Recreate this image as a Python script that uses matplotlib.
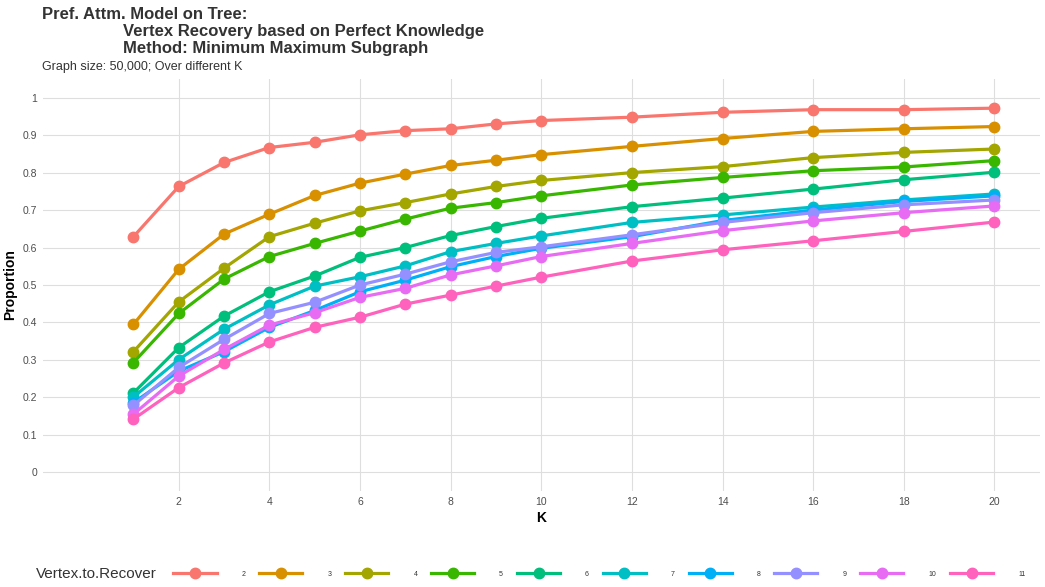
import matplotlib
matplotlib.use("Agg")
import matplotlib.pyplot as plt
from matplotlib.lines import Line2D

# K values on the x axis
k_values = [1, 2, 3, 4, 5, 6, 7, 8, 9, 10, 12, 14, 16, 18, 20]

# proportion recovered, one list per number of vertices to recover
v2 = [0.629, 0.763, 0.827, 0.867, 0.881, 0.901, 0.912, 0.917, 0.930, 0.939, 0.948, 0.961, 0.968, 0.968, 0.972]
v3 = [0.395, 0.542, 0.636, 0.689, 0.739, 0.772, 0.796, 0.819, 0.833, 0.848, 0.870, 0.891, 0.910, 0.917, 0.923]
v4 = [0.322, 0.455, 0.545, 0.629, 0.665, 0.698, 0.720, 0.743, 0.763, 0.779, 0.800, 0.816, 0.840, 0.854, 0.863]
v5 = [0.293, 0.424, 0.516, 0.576, 0.611, 0.644, 0.676, 0.705, 0.720, 0.738, 0.767, 0.787, 0.805, 0.815, 0.832]
v6 = [0.212, 0.333, 0.417, 0.482, 0.524, 0.574, 0.600, 0.632, 0.656, 0.678, 0.709, 0.732, 0.756, 0.781, 0.801]
v7 = [0.201, 0.301, 0.382, 0.447, 0.497, 0.522, 0.551, 0.589, 0.611, 0.631, 0.667, 0.687, 0.708, 0.727, 0.743]
v8 = [0.186, 0.270, 0.322, 0.387, 0.432, 0.482, 0.513, 0.549, 0.576, 0.598, 0.629, 0.672, 0.700, 0.723, 0.738]
v9 = [0.179, 0.280, 0.355, 0.424, 0.454, 0.500, 0.529, 0.562, 0.587, 0.602, 0.634, 0.667, 0.693, 0.714, 0.727]
v10 = [0.155, 0.257, 0.328, 0.393, 0.426, 0.467, 0.491, 0.527, 0.551, 0.576, 0.611, 0.645, 0.671, 0.693, 0.711]
v11 = [0.142, 0.226, 0.292, 0.348, 0.387, 0.414, 0.449, 0.473, 0.497, 0.521, 0.564, 0.594, 0.618, 0.643, 0.668]

series = [v2, v3, v4, v5, v6, v7, v8, v9, v10, v11]
labels = ["2", "3", "4", "5", "6", "7", "8", "9", "10", "11"]
colors = ["#F8766D", "#D89000", "#A3A500", "#39B600", "#00BF7D",
          "#00BFC4", "#00B0F6", "#9590FF", "#E76BF3", "#FF62BC"]

x_ticks = [2, 4, 6, 8, 10, 12, 14, 16, 18, 20]
y_ticks = [0, 0.1, 0.2, 0.3, 0.4, 0.5, 0.6, 0.7, 0.8, 0.9, 1]
y_ticklabels = ["0", "0.1", "0.2", "0.3", "0.4", "0.5", "0.6", "0.7", "0.8", "0.9", "1"]

plt.rcParams["font.family"] = ["Liberation Sans", "DejaVu Sans"]

fig = plt.figure(figsize=(10.45, 5.87), dpi=100)
ax = fig.add_axes([0.041, 0.1635, 0.954, 0.702])

for vals, lab, col in zip(series, labels, colors):
    ax.plot(k_values, vals, color=col, lw=2.3, marker="o", ms=7.5, label=lab, zorder=3)

ax.set_xlim(-1, 21)
ax.set_ylim(-0.05, 1.05)
ax.set_xticks(x_ticks)
ax.set_yticks(y_ticks)
ax.set_yticklabels(y_ticklabels)
ax.grid(True, color="#dedede", lw=0.8, zorder=0)
ax.tick_params(length=0, labelsize=7.5, colors="#4d4d4d", pad=4)
for s in ax.spines.values():
    s.set_visible(False)

ax.set_xlabel("K", fontsize=10, fontweight="bold", labelpad=3)
ax.set_ylabel("Proportion", fontsize=10, fontweight="bold", labelpad=4)

fig.text(0.040, 0.975, "Pref. Attm. Model on Tree:", fontsize=12, fontweight="bold",
         color="#333333", va="center", ha="left")
fig.text(0.118, 0.946, "Vertex Recovery based on Perfect Knowledge", fontsize=12,
         fontweight="bold", color="#333333", va="center", ha="left")
fig.text(0.118, 0.917, "Method: Minimum Maximum Subgraph", fontsize=12,
         fontweight="bold", color="#333333", va="center", ha="left")
fig.text(0.040, 0.886, "Graph size: 50,000; Over different K", fontsize=9,
         color="#333333", va="center", ha="left")

# legend along the bottom, title placed on the left
fig.text(0.034, 0.022, "Vertex.to.Recover", fontsize=11, color="#333333", va="center", ha="left")
handles = [Line2D([0], [0], color=c, lw=2.3, marker="o", ms=7.5) for c in colors]
fig.legend(handles, labels, loc="center left", bbox_to_anchor=(0.160, 0.022), ncol=10,
           frameon=False, fontsize=5, handlelength=6.2, handletextpad=3.6,
           columnspacing=2.0, labelcolor="#333333")

fig.savefig("out.png", dpi=100)
